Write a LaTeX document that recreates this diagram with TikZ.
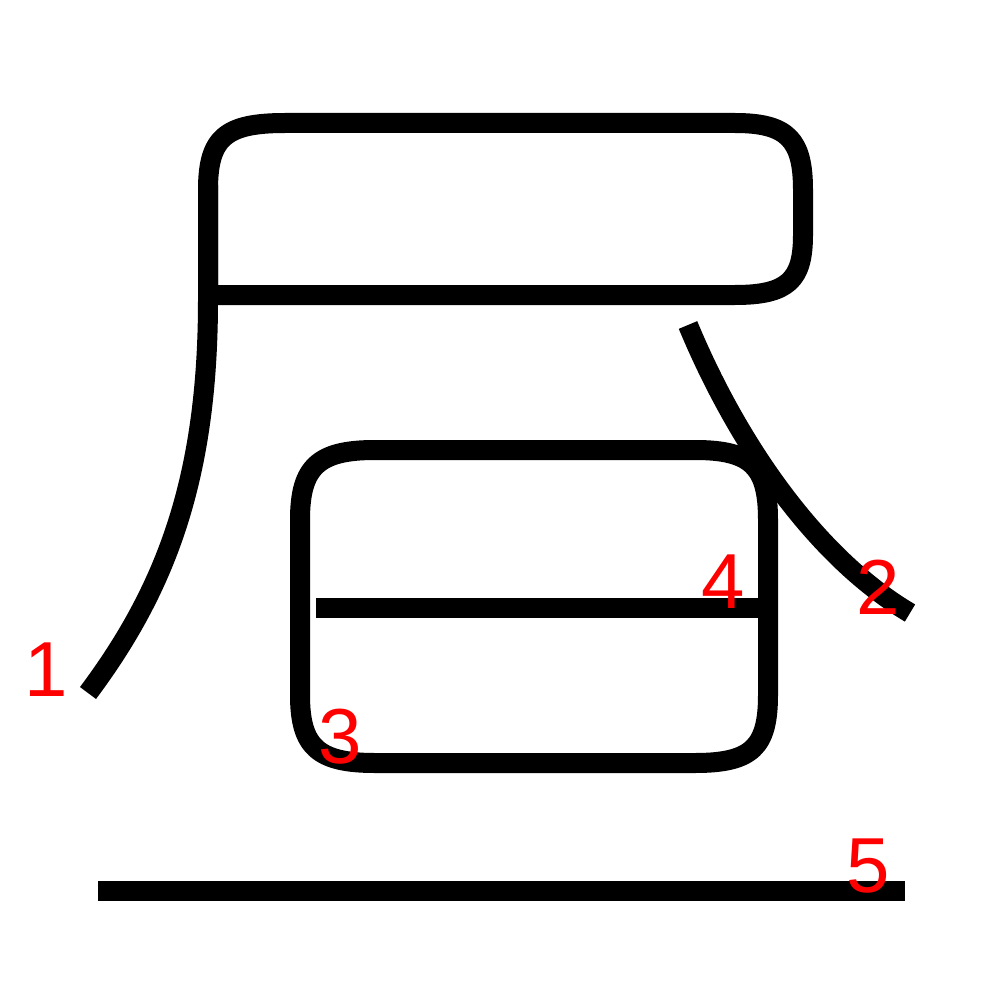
\documentclass[tikz,border=0pt]{standalone}
\usepackage{fontspec}
\setmainfont{Liberation Sans}
\begin{document}
\begin{tikzpicture}[x=1pt,y=-1pt,
  stroke/.style={line width=20pt,black,line cap=butt,line join=round},
  num/.style={text=red,font=\fontsize{78}{80}\selectfont,anchor=base,inner sep=0pt}]
\useasboundingbox (0,0) rectangle (1000,1000);
% stroke 1: left vertical sweeping down-left
\draw[stroke] (208,185) -- (208,300) .. controls (208,480) and (165,590) .. (88,693);
% frame
\draw[stroke] (208,300) -- (208,190) .. controls (208,138) and (225,123) .. (285,123)
  -- (735,123) .. controls (788,123) and (803,140) .. (803,190)
  -- (803,235) .. controls (803,280) and (788,295) .. (735,295) -- (198,295);
% diagonal stroke
\draw[stroke] (688,325) .. controls (740,450) and (820,560) .. (910,613);
% inner box
\draw[stroke] (300,520) .. controls (300,467) and (318,450) .. (375,450)
  -- (695,450) .. controls (752,450) and (768,467) .. (768,520)
  -- (768,695) .. controls (768,747) and (752,763) .. (695,763)
  -- (375,763) .. controls (318,763) and (300,747) .. (300,695) -- cycle;
% middle line
\draw[stroke] (316,608) -- (768,608);
% bottom line
\draw[stroke] (98,891) -- (905,891);
% labels
\node[num] (n1) at (46,696) {1};
\node[num] (n2) at (878,614) {2};
\node[num] (n3) at (340,763) {3};
\node[num] (n4) at (723,608) {4};
\node[num] (n5) at (868,892) {5};
\end{tikzpicture}
\end{document}
